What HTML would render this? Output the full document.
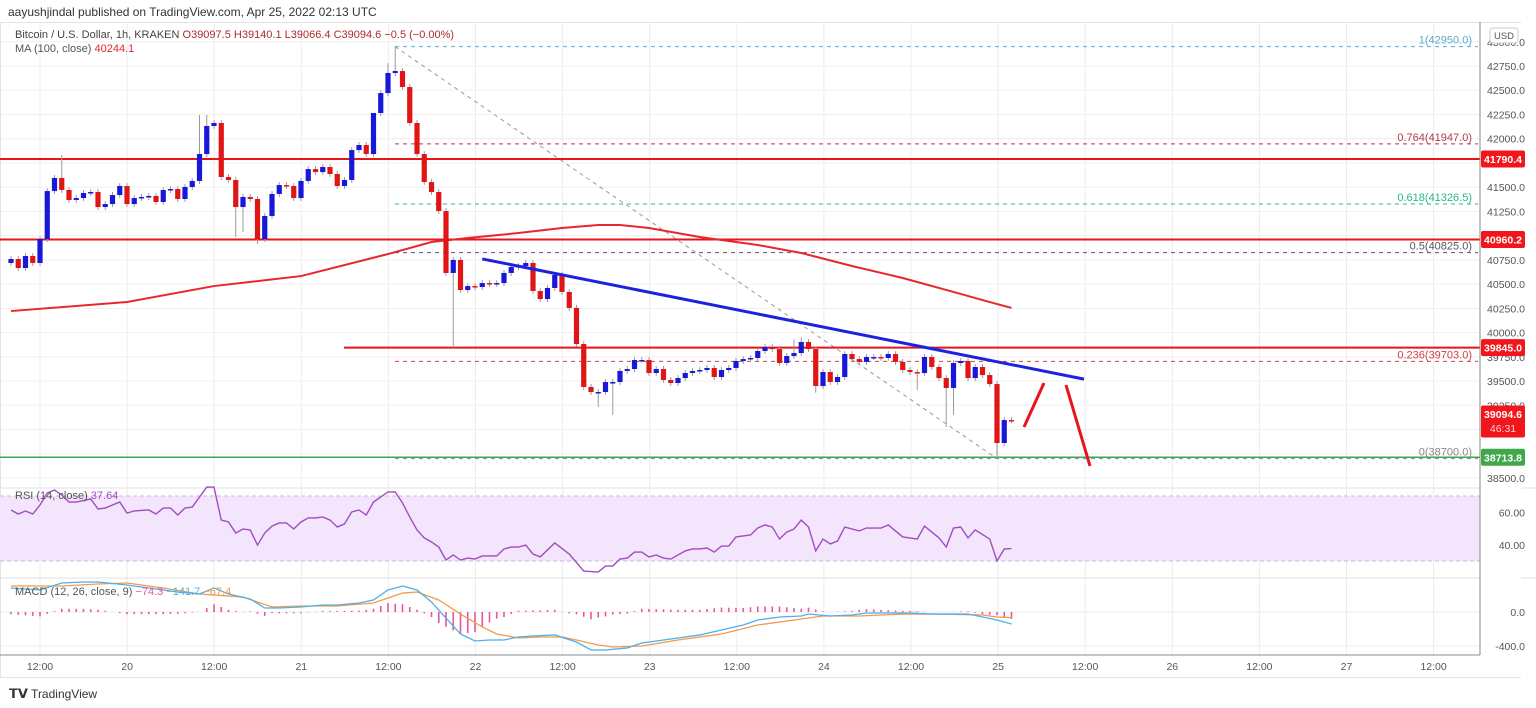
<!DOCTYPE html>
<html><head><meta charset="utf-8"><style>
html,body{margin:0;padding:0;background:#fff;width:1536px;height:708px;overflow:hidden;font-family:"Liberation Sans",sans-serif}
svg{position:absolute;left:0;top:0}
text{font-family:"Liberation Sans",sans-serif}
</style></head><body>
<svg id="chart" width="1536" height="708" viewBox="0 0 1536 708"></svg>
<script>
// ---- data ----
const closes=[40759,40666,40790,40718,40965,41460,41595,41471,41368,41388,41440,41450,41295,41326,41419,41512,41326,41388,41399,41409,41347,41471,41481,41378,41502,41564,41842,42131,42162,41605,41574,41295,41399,41378,40965,41203,41430,41522,41512,41388,41564,41687,41656,41708,41636,41512,41574,41883,41935,41842,42265,42471,42678,42698,42533,42162,41842,41553,41450,41254,40615,40749,40439,40480,40470,40511,40501,40511,40615,40676,40687,40718,40429,40346,40460,40594,40419,40254,39882,39439,39387,39387,39490,39490,39604,39624,39717,39717,39583,39624,39511,39480,39531,39583,39604,39614,39635,39542,39614,39635,39707,39727,39738,39810,39851,39830,39686,39758,39789,39903,39830,39449,39593,39490,39542,39779,39727,39697,39748,39748,39738,39779,39697,39614,39593,39583,39748,39645,39531,39428,39686,39707,39531,39645,39562,39469,38861,39098,39095];
const firstOpen=40718;
const hiIdx=[7,26,27,50,52,53,108,109];
const hiVal=[41832,42245,42245,42049,42780,42950,39930,39950];
const loIdx=[31,32,34,61,81,83,111,125,129,130,136];
const loVal=[40986,41040,40914,39845,39232,39150,39380,39408,39026,39150,38700];
const maIdx=[0,16,28,40,52,58,63,70,76,81,84,88,95,103,109,116,123,130,135,138];
const maVal=[40222,40315,40480,40583,40810,40934,40976,41027,41079,41110,41110,41079,40986,40904,40821,40687,40563,40419,40315,40254];
const rsiIdx=[0,1,2,3,4,5,6,7,8,9,11,12,13,15,16,17,19,20,21,22,23,24,25,27,28,29,30,31,32,33,34,35,36,37,38,39,40,41,42,43,44,45,46,47,48,49,50,52,53,54,55,56,57,58,59,60,61,62,63,64,65,67,68,69,70,71,72,73,75,77,79,81,82,83,84,85,86,87,88,89,90,91,93,94,95,96,97,98,99,100,102,103,104,105,106,107,108,109,110,111,112,113,114,115,117,118,120,121,123,124,125,126,128,129,130,131,132,133,135,136,137,138];
const rsiVal=[61.4,58.9,60.8,58.9,64.5,71.8,73.7,70.6,66.3,66.3,68.2,62.0,62.6,66.3,59.5,60.8,61.4,58.9,62.6,62.6,58.3,62.6,63.2,75.5,75.5,55.2,54.0,47.2,49.7,49.1,39.8,47.2,51.5,53.4,53.4,49.7,54.0,56.5,56.5,57.1,55.2,50.9,52.8,60.2,61.4,58.3,66.3,72.5,72.5,65.7,57.1,49.1,44.2,41.7,38.6,30.6,33.7,30.6,31.8,31.2,33.1,33.1,37.4,38.6,38.6,39.8,34.3,32.5,41.1,34.3,23.8,23.2,26.9,26.9,31.2,31.8,35.5,35.5,32.5,33.7,31.8,31.2,36.2,37.4,37.4,38.0,35.5,39.2,39.2,44.8,46.0,50.3,52.2,50.9,43.5,47.8,49.7,55.2,50.9,36.2,43.5,40.5,42.3,50.9,48.5,50.3,50.3,52.2,44.8,44.2,43.5,51.5,44.2,38.6,50.3,50.9,44.2,49.1,43.5,30.0,37.4,37.64];
const macdIdx=[0,4,7,10,12,16,21,23,26,28,30,33,35,37,40,43,45,48,50,52,54,56,58,60,62,64,66,68,70,72,75,78,80,82,85,87,90,92,95,98,101,103,106,109,110,113,116,118,121,124,127,130,132,134,136,138];
const macdVal=[282,259,341,353,353,318,259,235,212,282,212,153,47,47,59,82,82,106,141,259,306,259,118,-71,-259,-341,-329,-329,-294,-282,-270,-353,-447,-447,-423,-365,-329,-306,-270,-212,-153,-94,-59,-47,-24,-47,-35,-12,-12,-12,-24,-24,-24,-59,-94,-141];
const sigIdx=[0,7,12,16,21,26,32,36,40,45,50,54,56,59,62,65,67,70,73,76,78,81,83,87,92,98,103,109,112,117,123,128,134,136,138];
const sigVal=[306,306,329,341,282,212,176,59,71,71,106,223,235,141,-24,-176,-259,-306,-294,-294,-329,-388,-412,-400,-329,-259,-153,-82,-47,-47,-24,-24,-35,-59,-67];
const priceTicks=[43000,42750,42500,42250,42000,41750,41500,41250,41000,40750,40500,40250,40000,39750,39500,39250,39000,38750,38500];
const timeLabels=["12:00","20","12:00","21","12:00","22","12:00","23","12:00","24","12:00","25","12:00","26","12:00","27","12:00"];
const hLevels=[41790.4,40960.2,39845.0];
const fibRatios=["1","0.764","0.618","0.5","0.236","0"];
const fibPrices=[42950,41947,41326.5,40825,39703,38700];
const supportLevel=38713.8;
const trendIdx=[65,148];const trendVal=[40760,39520];

// ---- scales ----
const NS="http://www.w3.org/2000/svg";
const svg=document.getElementById('chart');
const xI=i=>11+i*7.25;
const yP=p=>66+(42750-p)*0.09694;
const yR=v=>561-(v-30)*1.625;
const yM=v=>612-v*0.085;
const AX=1480;
function el(tag,attrs,parent){const e=document.createElementNS(NS,tag);for(const k in attrs)e.setAttribute(k,attrs[k]);(parent||svg).appendChild(e);return e;}
function txt(x,y,s,attrs,parent){const t=el('text',Object.assign({x:x,y:y,'font-size':11,fill:'#555'},attrs||{}),parent);t.textContent=s;return t;}
function interp(idx,val,i){if(i<=idx[0])return val[0];for(let k=1;k<idx.length;k++){if(i<=idx[k]){const f=(i-idx[k-1])/(idx[k]-idx[k-1]);return val[k-1]+f*(val[k]-val[k-1]);}}return val[val.length-1];}

// frame & grid
const grid=el('g',{});


timeLabels.forEach((s,k)=>{const x=40+k*87.1;el('line',{x1:x,y1:22,x2:x,y2:655,stroke:'#ececec'},grid);});
priceTicks.forEach(p=>{const y=yP(p);el('line',{x1:0,y1:y,x2:AX,y2:y,stroke:'#efefef'},grid);});
[yR(60),yR(40),yM(0),yM(-400)].forEach(y=>el('line',{x1:0,y1:y,x2:AX,y2:y,stroke:'#ececec'},grid));
el('line',{x1:0,y1:488,x2:1536,y2:488,stroke:'#e0e0e0'},grid);
el('line',{x1:0,y1:578,x2:1536,y2:578,stroke:'#e0e0e0'},grid);
el('rect',{x:0.5,y:22.5,width:1520,height:655,fill:'none',stroke:'#e3e3e3'},grid);

// RSI band
const band=el('rect',{x:0,y:yR(70),width:AX,height:yR(30)-yR(70),fill:'#f3e6fc'});


[70,30].forEach(v=>el('line',{x1:0,y1:yR(v),x2:AX,y2:yR(v),stroke:'#c9b8d6','stroke-dasharray':'4 3'}));

// fib
const fibColors=['#5aa9d6','#b23a48','#2ab48e','#555566','#c9444a','#888'];
fibPrices.forEach((p,k)=>{const y=yP(p);
 const l=el('line',{x1:395,y1:y,x2:AX-2,y2:y,stroke:fibColors[k],'stroke-dasharray':'4 4','stroke-width':1});
 
 
 const t=txt(1472,y-3,fibRatios[k]+'('+p.toFixed(1)+')',{fill:fibColors[k],'text-anchor':'end','font-size':11});
 
 
});
const diag=el('line',{x1:395,y1:yP(42950),x2:997,y2:yP(38700),stroke:'#999','stroke-dasharray':'4 4'});



// horizontal levels
hLevels.forEach((p,k)=>{const y=yP(p);
 const l=el('line',{x1:k==2?344:0,y1:y,x2:AX,y2:y,stroke:'#e8141a','stroke-width':2});
 
 
});
const sup=el('line',{x1:0,y1:yP(supportLevel),x2:AX,y2:yP(supportLevel),stroke:'#3ca94a','stroke-width':1.5});



// MA
let d='';for(let i=0;i<maIdx.length;i++)d+=(i?'L':'M')+xI(maIdx[i])+' '+yP(maVal[i]);
const ma=el('path',{d:d,fill:'none',stroke:'#e8262c','stroke-width':2});



// candles
const cg=el('g',{});


closes.forEach((c,i)=>{
 const o=i?closes[i-1]:firstOpen;const up=c>=o;const col=up?'#1818d8':'#e01616';
 const hk=hiIdx.indexOf(i),lk=loIdx.indexOf(i);
 const hi=hk>=0?hiVal[hk]:Math.max(o,c)+30,lo=lk>=0?loVal[lk]:Math.min(o,c)-30;
 const x=xI(i);
 const w=el('line',{x1:x,y1:yP(hi),x2:x,y2:yP(lo),stroke:'#9a9a9a','stroke-width':1},cg);
 
 
 const top=yP(Math.max(o,c)),bot=yP(Math.min(o,c));
 const b=el('rect',{x:x-2.6,y:top,width:5.2,height:Math.max(1.5,bot-top),fill:col},cg);
 
 
});

// trendline + arrows
const tl=el('line',{x1:xI(trendIdx[0]),y1:yP(trendVal[0]),x2:xI(trendIdx[1]),y2:yP(trendVal[1]),stroke:'#1c22e0','stroke-width':3});


const a1=el('line',{x1:1024,y1:427,x2:1044,y2:383,stroke:'#e8141a','stroke-width':3});


const a2=el('line',{x1:1066,y1:385,x2:1090,y2:466,stroke:'#e8141a','stroke-width':3});



// RSI line
d='';for(let i=0;i<rsiIdx.length;i++)d+=(i?'L':'M')+xI(rsiIdx[i])+' '+yR(rsiVal[i]);
const rl=el('path',{d:d,fill:'none',stroke:'#a24cc0','stroke-width':1.4});



// MACD
const hg=el('g',{});


for(let i=0;i<closes.length;i++){const h=interp(macdIdx,macdVal,i)-interp(sigIdx,sigVal,i);
 const bar=el('line',{x1:xI(i),y1:yM(0),x2:xI(i),y2:yM(h*1.1),stroke:'#e8559a','stroke-width':1.6},hg);
 
 }
d='';for(let i=0;i<sigIdx.length;i++)d+=(i?'L':'M')+xI(sigIdx[i])+' '+yM(sigVal[i]);
const sl=el('path',{d:d,fill:'none',stroke:'#f59a4a','stroke-width':1.3});


d='';for(let i=0;i<macdIdx.length;i++)d+=(i?'L':'M')+xI(macdIdx[i])+' '+yM(macdVal[i]);
const ml=el('path',{d:d,fill:'none',stroke:'#4cb0ea','stroke-width':1.3});



// axes
el('rect',{x:AX+1,y:23,width:40,height:654,fill:'#fff'});
el('line',{x1:AX,y1:22,x2:AX,y2:655,stroke:'#888'});
el('line',{x1:0,y1:655,x2:AX,y2:655,stroke:'#888'});
priceTicks.forEach(p=>{const t=txt(1525,yP(p)+4,p.toFixed(1),{'text-anchor':'end','font-size':10.5,fill:'#555'});
 
 });
[[60,'60.00'],[40,'40.00']].forEach(a=>{const t=txt(1525,yR(a[0])+4,a[1],{'text-anchor':'end','font-size':10.5});});
[[0,'0.0'],[-400,'-400.0']].forEach(a=>{const t=txt(1525,yM(a[0])+4,a[1],{'text-anchor':'end','font-size':10.5});});
timeLabels.forEach((s,k)=>{const t=txt(40+k*87.1,670,s,{'text-anchor':'middle','font-size':10.5});
 
 });
function tag(p,label,color,sub){const y=yP(p);const h=sub?32:17;
 const r=el('rect',{x:AX+1,y:y-8.5,width:44,height:h,fill:color,rx:2});
 
 
 txt(AX+23,y+4,label,{fill:'#fff','text-anchor':'middle','font-size':10.5,'font-weight':'bold'});
 if(sub)txt(AX+23,y+18,sub,{fill:'#ffd0d0','text-anchor':'middle','font-size':10.5});}
tag(41790.4,'41790.4','#f0161c');tag(40960.2,'40960.2','#f0161c');tag(39845,'39845.0','#f0161c');
tag(39160,'39094.6','#f0161c','46:31');tag(38713.8,'38713.8','#3fa84b');
const usd=el('rect',{x:1490,y:28,width:28,height:15,fill:'#fff',stroke:'#ccc',rx:3});


txt(1504,39,'USD',{'text-anchor':'middle','font-size':9.5});

// legends
const hdr=txt(8,16,'aayushjindal published on TradingView.com, Apr 25, 2022 02:13 UTC',{'font-size':12,fill:'#333'});


const lg=txt(15,38,'',{'font-size':11,fill:'#444'});


lg.innerHTML='Bitcoin / U.S. Dollar, 1h, KRAKEN <tspan fill="#b02a2a">O39097.5  H39140.1  L39066.4  C39094.6  −0.5 (−0.00%)</tspan>';
const mal=txt(15,52,'',{'font-size':11,fill:'#555'});


mal.innerHTML='MA (100, close) <tspan fill="#e8262c">40244.1</tspan>';
const rlg=txt(15,499,'',{'font-size':11,fill:'#555'});


rlg.innerHTML='RSI (14, close) <tspan fill="#a24cc0">37.64</tspan>';
const mlg=txt(15,595,'',{'font-size':11,fill:'#555'});


mlg.innerHTML='MACD (12, 26, close, 9) <tspan fill="#e8559a">−74.3</tspan> <tspan fill="#4cb0ea">−141.7</tspan> <tspan fill="#f59a4a">−67.4</tspan>';
const logo=txt(9,698,'',{'font-size':12,fill:'#333'});


logo.innerHTML='<tspan font-weight="bold" font-size="13">𝗧𝗩</tspan> TradingView';
</script>
</body></html>
